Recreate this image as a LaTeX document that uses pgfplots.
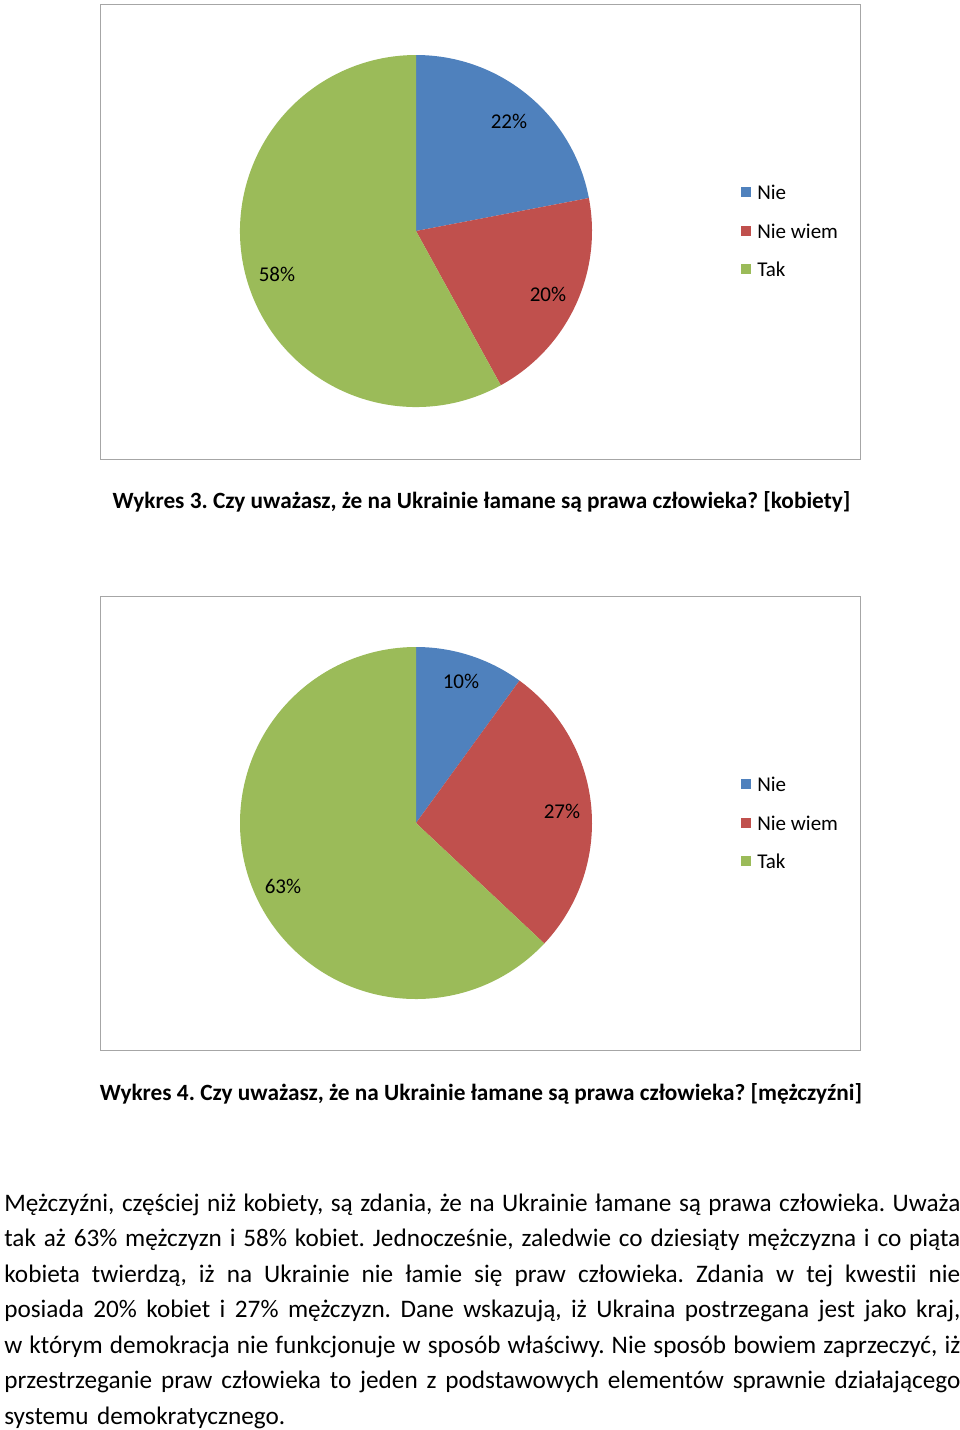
\documentclass[border=0pt]{standalone}
\usepackage{pgfplots}
\pgfplotsset{compat=1.18}
\usepackage{fontspec}
\setmainfont{Carlito}[Ligatures=CommonOff]
\definecolor{cNie}{HTML}{4F81BD}
\definecolor{cNieWiem}{HTML}{C0504D}
\definecolor{cTak}{HTML}{9BBB59}
\definecolor{frame}{HTML}{A6A6A6}
% px -> pt scale: 1px = 0.6185pt
\newcommand{\R}{108.86pt}
% data (percent): Nie, Nie wiem, Tak
\def\kNie{22}\def\kNW{20}\def\kTak{58}
\def\mNie{10}\def\mNW{27}\def\mTak{63}
\newcommand{\pie}[5]{% cx, cy, a, b, c
  \fill[cNie] (axis cs:#1,#2) -- ++(90:\R) arc[start angle=90,end angle={90-3.6*#3},radius=\R] -- cycle;
  \fill[cNieWiem] (axis cs:#1,#2) -- ++({90-3.6*#3}:\R) arc[start angle={90-3.6*#3},end angle={90-3.6*(#3+#4)},radius=\R] -- cycle;
  \fill[cTak] (axis cs:#1,#2) -- ++({90-3.6*(#3+#4)}:\R) arc[start angle={90-3.6*(#3+#4)},end angle={90-3.6*(#3+#4+#5)},radius=\R] -- cycle;
}
\newcommand{\legendbox}[3]{%
  \fill[#3] (axis cs:741,#2-5) rectangle (axis cs:751,#2+5);
  \node[anchor=west,inner sep=0pt,font=\fontsize{13}{15}\selectfont] at (axis cs:757,#2) {#1};
}
\newcommand{\jline}[1]{\makebox[591.3pt][s]{\spaceskip=0.226em plus 1fil minus 0.08em\xspaceskip=\spaceskip #1}}
\begin{document}
\begin{tikzpicture}
\useasboundingbox (0,0) rectangle (593.76pt,884.46pt);
\begin{axis}[
  scale only axis, width=593.76pt, height=884.46pt,
  xmin=0, xmax=960, ymin=0, ymax=1430, y dir=reverse,
  hide axis, clip=false, anchor=south west, at={(0,0)}
]
% chart frames
\draw[frame, line width=0.9pt, fill=white] (axis cs:100.5,4.5) rectangle (axis cs:860.5,459.5);
\draw[frame, line width=0.9pt, fill=white] (axis cs:100.5,596.5) rectangle (axis cs:860.5,1050.5);
% pies
\pie{416}{231}{\kNie}{\kNW}{\kTak}
\pie{416}{823}{\mNie}{\mNW}{\mTak}
% data labels
\begin{scope}[every node/.style={font=\fontsize{13}{15}\selectfont, inner sep=0pt}]
\node at (axis cs:509,121) {22\%};
\node at (axis cs:548,294) {20\%};
\node at (axis cs:277,274) {58\%};
\node at (axis cs:461,681) {10\%};
\node at (axis cs:562,811) {27\%};
\node at (axis cs:283,886) {63\%};
\end{scope}
% legends
\legendbox{Nie}{192}{cNie}
\legendbox{Nie wiem}{231}{cNieWiem}
\legendbox{Tak}{269}{cTak}
\legendbox{Nie}{784}{cNie}
\legendbox{Nie wiem}{823}{cNieWiem}
\legendbox{Tak}{861}{cTak}
% captions
\node[font=\bfseries\fontsize{14.4}{16}\selectfont, inner sep=0pt] at (axis cs:481.5,502) {\frenchspacing Wykres 3. Czy uważasz, że na Ukrainie łamane są prawa człowieka? [kobiety]};
\node[font=\bfseries\fontsize{14.4}{16}\selectfont, inner sep=0pt] at (axis cs:481,1094) {\frenchspacing Wykres 4. Czy uważasz, że na Ukrainie łamane są prawa człowieka? [mężczyźni]};
% paragraph
\node[anchor=north west, inner sep=0pt, text width=591.3pt, align=left,
      font=\fontsize{15.6}{21.95}\selectfont] at (axis cs:4,1186) {\frenchspacing
\strut\jline{Mężczyźni, częściej niż kobiety, są zdania, że na Ukrainie łamane są prawa człowieka. Uważa}\\
\jline{tak aż 63\% mężczyzn i 58\% kobiet. Jednocześnie, zaledwie co dziesiąty mężczyzna i co piąta}\\
\jline{kobieta twierdzą, iż na Ukrainie nie łamie się praw człowieka. Zdania w tej kwestii nie}\\
\jline{posiada 20\% kobiet i 27\% mężczyzn. Dane wskazują, iż Ukraina postrzegana jest jako kraj,}\\
\jline{w którym demokracja nie funkcjonuje w sposób właściwy. Nie sposób bowiem zaprzeczyć, iż}\\
\jline{przestrzeganie praw człowieka to jeden z podstawowych elementów sprawnie działającego}\\
systemu demokratycznego.};
\end{axis}
\end{tikzpicture}
\end{document}
